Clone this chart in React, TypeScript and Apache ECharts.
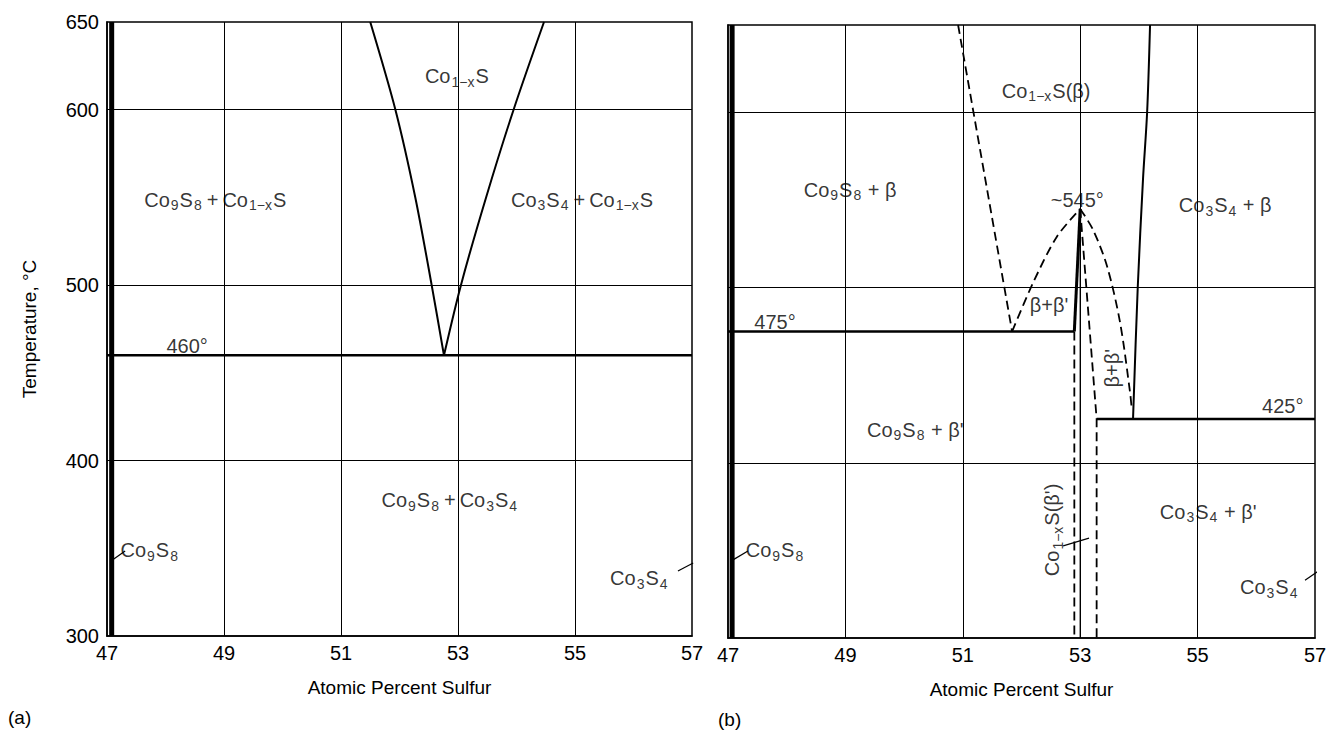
import React, { useEffect, useRef } from "react";
import * as echarts from "echarts";

// ---------- axes ----------
const xTicks = [47, 49, 51, 53, 55, 57];
const yTicks = [300, 400, 500, 600, 650];
const gridXValues = [49, 51, 53, 55];
const gridYValues = [400, 500, 600];

// ---------- panel (a) ----------
const aLeftBoundary = [[51.5, 650], [51.93, 600], [52.27, 550], [52.55, 500], [52.76, 460]];
const aRightBoundary = [[54.47, 650], [53.95, 600], [53.48, 550], [53.05, 500], [52.76, 460]];
const aEutectoid = [[47, 460], [57, 460]];
const aCo9S8Bar = [[47.08, 300], [47.08, 650]];
const aCo3S4Bar = [[57.08, 300], [57.08, 650]];
const aLeaderCo9S8 = [[47.08, 343], [47.31, 348.5]];
const aLeaderCo3S4 = [[56.76, 337], [57.02, 341.6]];
const aLabels = [
  { text: "Co{s|1−x}S", value: [52.98, 619], rotate: 0 },
  { text: "Co{s|9}S{s|8}\u2009+\u2009Co{s|1−x}S", value: [48.85, 548.6], rotate: 0 },
  { text: "Co{s|3}S{s|4}\u2009+\u2009Co{s|1−x}S", value: [55.12, 548.6], rotate: 0 },
  { text: "460°", value: [48.37, 465.5], rotate: 0 },
  { text: "Co{s|9}S{s|8}\u2009+\u2009Co{s|3}S{s|4}", value: [52.86, 377.5], rotate: 0 },
  { text: "Co{s|9}S{s|8}", value: [47.73, 349], rotate: 0 },
  { text: "Co{s|3}S{s|4}", value: [56.1, 333], rotate: 0 },
];

// ---------- panel (b) ----------
const bLeftDashed = [[50.92, 650], [51.84, 475]];
const bArcLeft = [[51.84, 475], [52.2, 503], [52.6, 529], [53.0, 545]];
const bArcRight = [[53.0, 545], [53.22, 533], [53.46, 512], [53.68, 480], [53.85, 440], [53.88, 430]];
const bRightBoundary = [[54.19, 650], [54.14, 600], [54.07, 562], [53.98, 500], [53.9, 425]];
const bSteepDashed = [[53.0, 545], [53.28, 425], [53.28, 300]];
const bThickSolid = [[53.0, 545], [52.9, 475]];
const bLeftVertDashed = [[52.9, 475], [52.9, 300]];
const bCenterSolid = [[53.0, 545], [53.0, 300]];
const bLine475 = [[47, 475], [52.9, 475]];
const bLine425 = [[53.28, 425], [57, 425]];
const bCo9S8Bar = [[47.07, 300], [47.07, 650]];
const bCo3S4Bar = [[57.07, 300], [57.07, 650]];
const bLeaderCo9S8 = [[47.085, 344.6], [47.34, 349.7]];
const bLeaderCoS = [[52.71, 352.6], [53.15, 357]];
const bLeaderCo3S4 = [[56.83, 333], [57.09, 338.9]];
const bLabels = [
  { text: "Co{s|1−x}S(β)", value: [52.42, 612.6], rotate: 0 },
  { text: "Co{s|9}S{s|8} + β", value: [49.08, 556], rotate: 0 },
  { text: "~545°", value: [52.95, 550], rotate: 0 },
  { text: "Co{s|3}S{s|4} + β", value: [55.47, 547], rotate: 0 },
  { text: "475°", value: [47.8, 480.6], rotate: 0 },
  { text: "β+β'", value: [52.47, 490], rotate: 0 },
  { text: "β+β'", value: [53.54, 454], rotate: 90 },
  { text: "Co{s|9}S{s|8} + β'", value: [50.19, 419], rotate: 0 },
  { text: "425°", value: [56.45, 432.6], rotate: 0 },
  { text: "Co{s|1−x}S(β')", value: [52.52, 361.7], rotate: 90 },
  { text: "Co{s|3}S{s|4} + β'", value: [55.18, 372], rotate: 0 },
  { text: "Co{s|9}S{s|8}", value: [47.8, 350], rotate: 0 },
  { text: "Co{s|3}S{s|4}", value: [56.22, 329], rotate: 0 },
];

const FONT = "'Liberation Sans', Arial, Helvetica, sans-serif";

function lineSeries(data: number[][], idx: number, width: number, dashed = false, smooth: boolean | number = false) {
  return {
    type: "line",
    xAxisIndex: idx,
    yAxisIndex: idx,
    data,
    smooth,
    symbol: "none",
    clip: false,
    silent: true,
    lineStyle: { color: "#000", width, type: dashed ? [9, 5] : "solid" },
  };
}

function labelSeries(labels: { text: string; value: number[]; rotate: number }[], idx: number) {
  return {
    type: "scatter",
    xAxisIndex: idx,
    yAxisIndex: idx,
    symbolSize: 1,
    silent: true,
    itemStyle: { color: "rgba(0,0,0,0)" },
    data: labels.map((l) => ({
      value: l.value,
      text: l.text,
      label: { rotate: l.rotate },
    })),
    label: {
      show: true,
      position: "inside",
      align: "center",
      verticalAlign: "middle",
      formatter: (p: any) => p.data.text,
      color: "#000",
      fontSize: 20,
      fontFamily: FONT,
      rich: {
        s: { fontSize: 14, fontFamily: FONT, color: "#000", padding: [11, 1, 0, 1] },
      },
    },
  };
}

function gridLines(idx: number) {
  return {
    type: "line",
    xAxisIndex: idx,
    yAxisIndex: idx,
    data: [],
    silent: true,
    markLine: {
      silent: true,
      symbol: "none",
      animation: false,
      label: { show: false },
      lineStyle: { color: "#000", width: 1, type: "solid" },
      data: [
        ...gridXValues.map((v) => ({ xAxis: v })),
        ...gridYValues.map((v) => ({ yAxis: v })),
      ],
    },
  };
}

function xAxisDef(idx: number) {
  return {
    type: "value",
    gridIndex: idx,
    min: 47,
    max: 57,
    interval: 1,
    axisLine: { show: true, lineStyle: { color: "#000", width: 1.5 } },
    axisTick: { show: false },
    splitLine: { show: false },
    axisLabel: {
      color: "#000",
      fontSize: 20,
      fontFamily: FONT,
      margin: 7,
      formatter: (v: number) => (xTicks.includes(v) ? String(v) : ""),
    },
    name: "Atomic Percent Sulfur",
    nameLocation: "middle",
    nameGap: 42,
    nameTextStyle: { color: "#000", fontSize: 19, fontFamily: FONT },
  };
}

function yAxisDef(idx: number, withLabels: boolean) {
  return {
    type: "value",
    gridIndex: idx,
    min: 300,
    max: 650,
    interval: 50,
    axisLine: { show: true, lineStyle: { color: "#000", width: 1.5 } },
    axisTick: { show: false },
    splitLine: { show: false },
    axisLabel: {
      show: withLabels,
      color: "#000",
      fontSize: 20,
      fontFamily: FONT,
      margin: 8,
      formatter: (v: number) => (yTicks.includes(v) ? String(v) : ""),
    },
    name: withLabels ? "Temperature, °C" : "",
    nameLocation: "middle",
    nameGap: 68,
    nameTextStyle: { color: "#000", fontSize: 19, fontFamily: FONT },
  };
}

export default function App() {
  const ref = useRef<HTMLDivElement>(null);
  useEffect(() => {
    document.body.style.margin = "0";
    const chart = echarts.init(ref.current!, null, { renderer: "svg" });
    chart.setOption({
      animation: false,
      backgroundColor: "#fff",
      grid: [
        { left: 107, top: 22, width: 585, height: 614, show: true, borderColor: "#000", borderWidth: 1.5 },
        { left: 728, top: 25, width: 587, height: 613, show: true, borderColor: "#000", borderWidth: 1.5 },
      ],
      xAxis: [xAxisDef(0), xAxisDef(1)],
      yAxis: [yAxisDef(0, true), yAxisDef(1, false)],
      graphic: [
        { type: "text", left: 8, top: 708, style: { text: "(a)", fontSize: 19, fontFamily: FONT, fill: "#000" } },
        { type: "text", left: 718, top: 710, style: { text: "(b)", fontSize: 19, fontFamily: FONT, fill: "#000" } },
      ],
      series: [
        gridLines(0),
        gridLines(1),
        // panel a
        lineSeries(aLeftBoundary, 0, 2, false, 0.3),
        lineSeries(aRightBoundary, 0, 2, false, 0.3),
        lineSeries(aEutectoid, 0, 2.5),
        lineSeries(aCo9S8Bar, 0, 5),
        lineSeries(aCo3S4Bar, 0, 4),
        lineSeries(aLeaderCo9S8, 0, 1.2),
        lineSeries(aLeaderCo3S4, 0, 1.2),
        labelSeries(aLabels, 0),
        // panel b
        lineSeries(bLeftDashed, 1, 1.8, true),
        lineSeries(bArcLeft, 1, 1.8, true, 0.3),
        lineSeries(bArcRight, 1, 1.8, true, 0.3),
        lineSeries(bRightBoundary, 1, 2, false, 0.3),
        lineSeries(bSteepDashed, 1, 1.8, true),
        lineSeries(bThickSolid, 1, 3),
        lineSeries(bLeftVertDashed, 1, 1.8, true),
        lineSeries(bCenterSolid, 1, 1.2),
        lineSeries(bLine475, 1, 2.5),
        lineSeries(bLine425, 1, 2.5),
        lineSeries(bCo9S8Bar, 1, 5),
        lineSeries(bCo3S4Bar, 1, 4),
        lineSeries(bLeaderCo9S8, 1, 1.2),
        lineSeries(bLeaderCoS, 1, 1.2),
        lineSeries(bLeaderCo3S4, 1, 1.2),
        labelSeries(bLabels, 1),
      ],
    });
    return () => chart.dispose();
  }, []);
  return <div ref={ref} style={{ width: 1333, height: 734 }} />;
}
